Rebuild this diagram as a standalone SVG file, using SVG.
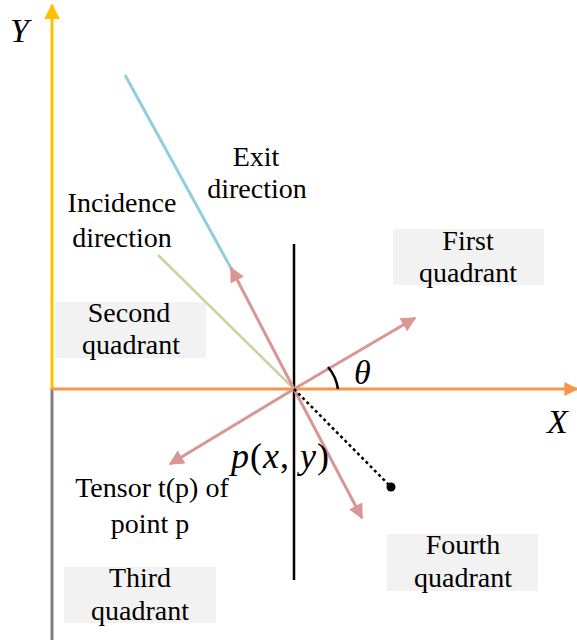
<svg xmlns="http://www.w3.org/2000/svg" width="577" height="644" viewBox="0 0 577 644">
<style>
.t{font-family:"Liberation Serif","Times New Roman",serif;font-size:28px;fill:#000;text-anchor:middle}
.m{font-family:"Liberation Serif","Times New Roman",serif;font-style:italic;fill:#000}
.box{fill:#F2F2F2}
.vec{stroke:#D99694;stroke-width:3;fill:none;marker-end:url(#pk)}
</style>
<defs>
<marker id="pk" viewBox="0 0 10 10" refX="9" refY="5" markerUnits="userSpaceOnUse" markerWidth="17" markerHeight="15" orient="auto"><path d="M0,0 L10,5 L0,10 Z" fill="#D99694"/></marker>
<marker id="ye" viewBox="0 0 10 10" refX="9" refY="5" markerUnits="userSpaceOnUse" markerWidth="16" markerHeight="16" orient="auto"><path d="M0,0 L10,5 L0,10 Z" fill="#FFC000"/></marker>
<marker id="or" viewBox="0 0 10 10" refX="9" refY="5" markerUnits="userSpaceOnUse" markerWidth="14" markerHeight="14" orient="auto"><path d="M0,0 L10,5 L0,10 Z" fill="#F79646"/></marker>
</defs>
<g id="quadrant1"><rect class="box" x="393" y="229" width="151" height="56"/><text class="t" x="468" y="250">First</text><text class="t" x="468" y="282">quadrant</text></g>
<g id="quadrant2"><rect class="box" x="55" y="302" width="151" height="56"/><text class="t" x="129" y="322">Second</text><text class="t" x="131" y="354">quadrant</text></g>
<g id="quadrant3"><rect class="box" x="64" y="567" width="152" height="56"/><text class="t" x="140" y="587">Third</text><text class="t" x="140" y="620">quadrant</text></g>
<g id="quadrant4"><rect class="box" x="387" y="534" width="151" height="57"/><text class="t" x="463" y="554">Fourth</text><text class="t" x="463" y="587">quadrant</text></g>
<g id="connectors">
<line x1="52" y1="389" x2="52" y2="640" stroke="#808080" stroke-width="3"/>
<line x1="52" y1="389" x2="52" y2="5" stroke="#FFC000" stroke-width="3" marker-end="url(#ye)"/>
<line x1="52" y1="389" x2="577" y2="389" stroke="#F79646" stroke-width="3" marker-end="url(#or)"/>
<line x1="125" y1="75" x2="232" y2="270" stroke="#92CDDC" stroke-width="3"/>
<line x1="158" y1="255" x2="294" y2="389" stroke="#C3D69B" stroke-width="2.5"/>
<line x1="294" y1="244" x2="294" y2="580" stroke="#000" stroke-width="2.5"/>
<line class="vec" x1="294" y1="389" x2="231" y2="268"/>
<line class="vec" x1="294" y1="389" x2="415" y2="318"/>
<line class="vec" x1="294" y1="389" x2="170" y2="464"/>
<line class="vec" x1="294" y1="389" x2="362" y2="518"/>
<line x1="294" y1="389" x2="391" y2="487" stroke="#000" stroke-width="2.5" stroke-dasharray="3,3"/>
<circle cx="391" cy="487" r="4.5" fill="#000"/>
<path d="M328,367 A44,44 0 0 1 338,389" fill="none" stroke="#000" stroke-width="2.5"/>
</g>
<g id="labels">
<text class="t" x="256" y="166">Exit</text>
<text class="t" x="257" y="198">direction</text>
<text class="t" x="122" y="212">Incidence</text>
<text class="t" x="122" y="247">direction</text>
<text class="t" x="152" y="497">Tensor t(p) of</text>
<text class="t" x="150" y="533">point p</text>
<text class="m" x="354" y="384" font-size="34">θ</text>
<text class="m" x="231" y="468" font-size="36" letter-spacing="1">p<tspan font-style="normal">(</tspan>x<tspan font-style="normal">, </tspan>y<tspan font-style="normal">)</tspan></text>
<text class="m" x="547" y="433" font-size="34">X</text>
<text class="m" x="10" y="42" font-size="34">Y</text>
</g>
</svg>
